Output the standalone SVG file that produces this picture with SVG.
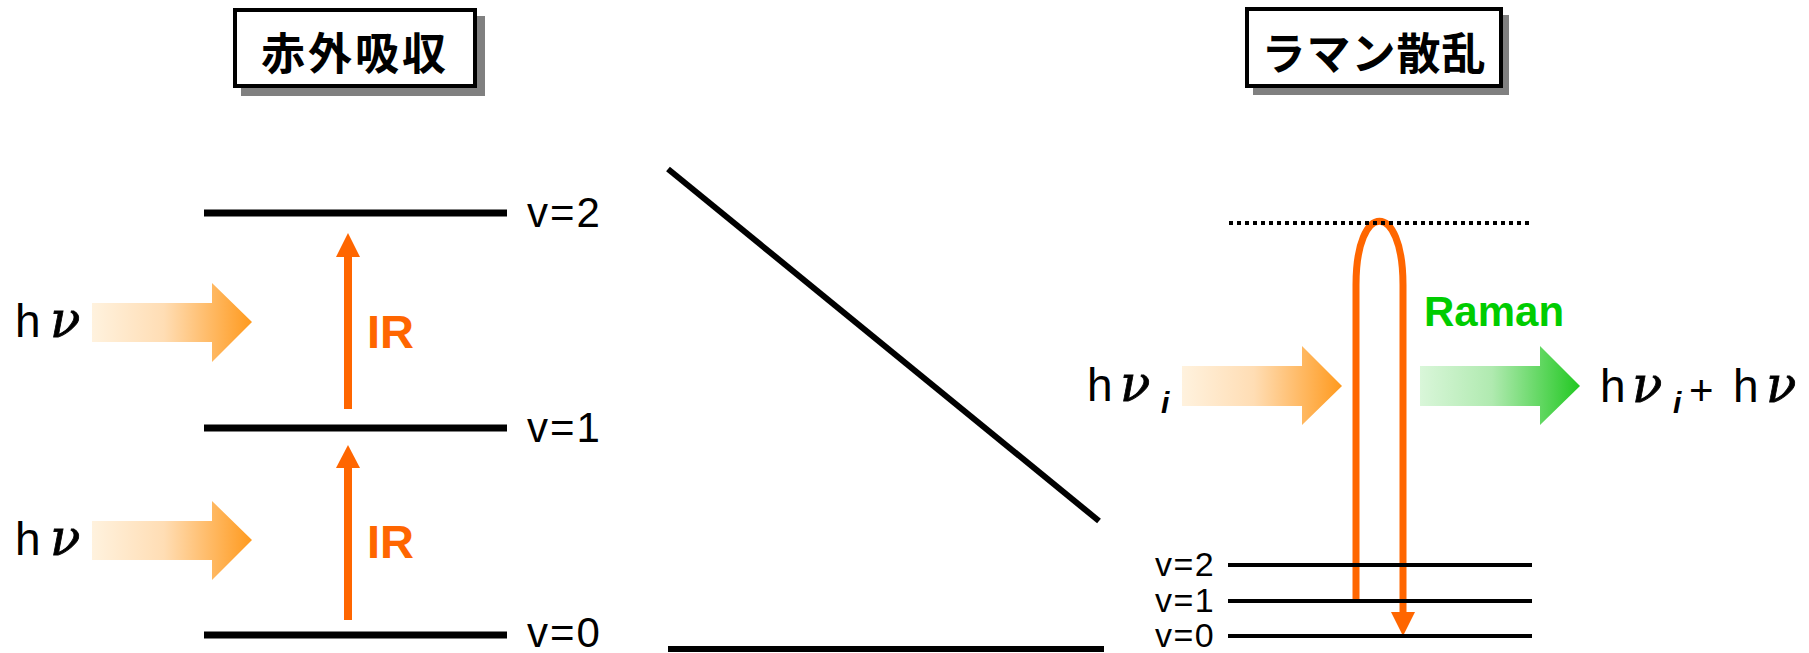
<svg xmlns="http://www.w3.org/2000/svg" width="1809" height="653" viewBox="0 0 1809 653">
<style>
.lvl{stroke:#000;stroke-width:7;fill:none}
.lvls{stroke:#000;stroke-width:4;fill:none}
.lbl{font-family:"Liberation Sans",Arial,sans-serif;font-size:42px;letter-spacing:2px;fill:#000}
.lbls{font-family:"Liberation Sans",Arial,sans-serif;font-size:34px;letter-spacing:1.5px;fill:#000}
.ir{font-family:"Liberation Sans",Arial,sans-serif;font-size:47px;font-weight:bold;fill:#FF6600}
.h{font-family:"Liberation Sans",Arial,sans-serif;font-size:46px;fill:#000}
.nu{font-family:"DejaVu Serif",serif;font-style:italic;font-size:50px;fill:#000;stroke:#000;stroke-width:0.8}
.sub{font-family:"Liberation Sans",Arial,sans-serif;font-style:italic;font-weight:bold;font-size:30px;fill:#000}
.title{font-family:"Noto Sans CJK JP","Noto Sans CJK SC",sans-serif;font-weight:bold;font-size:44px;fill:#000;text-anchor:middle}
.orange{fill:#FF6600}
.ostroke{stroke:#FF6600;stroke-width:7;fill:none}
</style>
<defs>
<linearGradient id="gOr" x1="0" y1="0" x2="1" y2="0">
<stop offset="0" stop-color="#FFF2DE"/>
<stop offset="0.45" stop-color="#FFDDB4"/>
<stop offset="1" stop-color="#FF9A1E"/>
</linearGradient>
<linearGradient id="gGr" x1="0" y1="0" x2="1" y2="0">
<stop offset="0" stop-color="#D9F6D9"/>
<stop offset="0.45" stop-color="#B0EAB0"/>
<stop offset="1" stop-color="#22C822"/>
</linearGradient>
</defs>

<g id="title-ir">
<rect x="241" y="16" width="244" height="80" fill="#808080"/>
<rect x="235" y="10" width="240" height="76" fill="#fff" stroke="#000" stroke-width="4"/>
<text class="title" x="355" y="70" letter-spacing="3">赤外吸収</text>
</g>
<g id="title-raman">
<rect x="1253" y="15" width="256" height="80" fill="#808080"/>
<rect x="1247" y="9" width="254" height="77" fill="#fff" stroke="#000" stroke-width="4"/>
<text class="title" x="1374" y="70" letter-spacing="1">ラマン散乱</text>
</g>

<g id="ir-levels">
<line class="lvl" x1="204" y1="213" x2="507" y2="213"/>
<line class="lvl" x1="204" y1="428" x2="507" y2="428"/>
<line class="lvl" x1="204" y1="635" x2="507" y2="635"/>
<text class="lbl" x="527" y="227">v=2</text>
<text class="lbl" x="527" y="442">v=1</text>
<text class="lbl" x="527" y="647">v=0</text>
</g>

<g id="ir-photon-upper">
<polygon fill="url(#gOr)" points="92,303 212,303 212,283 252,322 212,362 212,342 92,342"/>
<text class="h" x="15" y="337">h</text>
<text class="nu" x="50" y="337">ν</text>
</g>
<g id="ir-photon-lower">
<polygon fill="url(#gOr)" points="92,521 212,521 212,501 252,540 212,580 212,560 92,560"/>
<text class="h" x="15" y="555">h</text>
<text class="nu" x="50" y="555">ν</text>
</g>

<g id="connectors">
<line x1="348" y1="409" x2="348" y2="255" stroke="#FF6600" stroke-width="8"/>
<polygon class="orange" points="336,257 360,257 348,233"/>
<line x1="348" y1="620" x2="348" y2="466" stroke="#FF6600" stroke-width="8"/>
<polygon class="orange" points="336,468 360,468 348,445"/>
<line x1="668" y1="169" x2="1099" y2="521" stroke="#000" stroke-width="6"/>
<line x1="668" y1="649" x2="1104" y2="649" stroke="#000" stroke-width="6"/>
<path class="ostroke" d="M1356,601 L1356,285 C1356,200 1403,200 1403,285 L1403,614"/>
<polygon class="orange" points="1391,612 1415,612 1403,636"/>
</g>

<g id="ir-labels">
<text class="ir" x="367" y="348">IR</text>
<text class="ir" x="367" y="558">IR</text>
</g>

<g id="raman-levels">
<line x1="1229" y1="223" x2="1529" y2="223" stroke="#000" stroke-width="4" stroke-dasharray="4 4"/>
<line class="lvls" x1="1228" y1="565" x2="1532" y2="565"/>
<line class="lvls" x1="1228" y1="601" x2="1532" y2="601"/>
<line class="lvls" x1="1228" y1="636" x2="1532" y2="636"/>
<text class="lbls" x="1155" y="576">v=2</text>
<text class="lbls" x="1155" y="612">v=1</text>
<text class="lbls" x="1155" y="647">v=0</text>
</g>

<g id="raman-incident">
<polygon fill="url(#gOr)" points="1182,366 1302,366 1302,346 1342,386 1302,425 1302,406 1182,406"/>
<text class="h" x="1087" y="401">h</text>
<text class="nu" x="1120" y="401">ν</text>
<text class="sub" x="1161" y="413">i</text>
</g>

<g id="raman-scattered">
<polygon fill="url(#gGr)" points="1420,366 1540,366 1540,346 1580,386 1540,425 1540,406 1420,406"/>
<text x="1424" y="326" font-family="Liberation Sans,Arial,sans-serif" font-size="42" font-weight="bold" fill="#00CC00">Raman</text>
<text class="h" x="1600" y="402">h</text>
<text class="nu" x="1632" y="402">ν</text>
<text class="sub" x="1673" y="413">i</text>
<text x="1689" y="405" font-family="Liberation Sans,Arial,sans-serif" font-size="42" fill="#000">+</text>
<text class="h" x="1733" y="402">h</text>
<text class="nu" x="1766" y="402">ν</text>
</g>
</svg>
